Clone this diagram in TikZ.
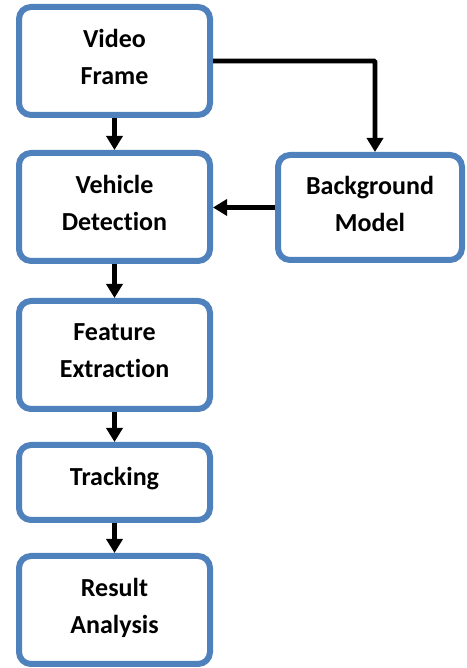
\documentclass[tikz,border=0pt]{standalone}
\usepackage{fontspec}
\setmainfont{Carlito}[Ligatures=NoCommon]
\usetikzlibrary{arrows.meta}
\definecolor{boxblue}{HTML}{4F81BD}
\tikzset{
    block/.style={draw=boxblue, line width=6pt, rounded corners=12pt, fill=white,
        align=center, minimum width=191pt, minimum height=108pt, text depth=8pt,
        font=\fontsize{26}{37}\selectfont\bfseries},
    flow/.style={draw=black, line width=4.8pt,
        -{Triangle[width=16pt,length=14pt]}}
}
\begin{document}
\begin{tikzpicture}
    \useasboundingbox (0,0) rectangle (466pt,668pt);

    % main chain
    \node[block] (vf) at (114.5pt,607pt) {Video\\Frame};
    \node[block] (vd) at (114.5pt,461pt) {Vehicle\\Detection};
    \node[block] (fe) at (114.5pt,313pt) {Feature\\Extraction};
    \node[block, minimum height=75pt, text depth=13pt] (tr) at (114.5pt,185.5pt) {Tracking};
    \node[block] (ra) at (114.5pt,58pt) {Result\\Analysis};
    % side box
    \node[block, minimum width=184pt, minimum height=105pt] (bg) at (370pt,460.5pt) {Background\\Model};

    \draw[flow] (vf) -- (vd);
    \draw[flow] (vd) -- (fe);
    \draw[flow] (fe) -- (tr);
    \draw[flow] (tr) -- (ra);
    \draw[flow, rounded corners=1pt] (vf.east) -| ([xshift=5pt]bg.north);
    \draw[flow] (bg.west) -- (bg.west -| vd.east);

\end{tikzpicture}
\end{document}
